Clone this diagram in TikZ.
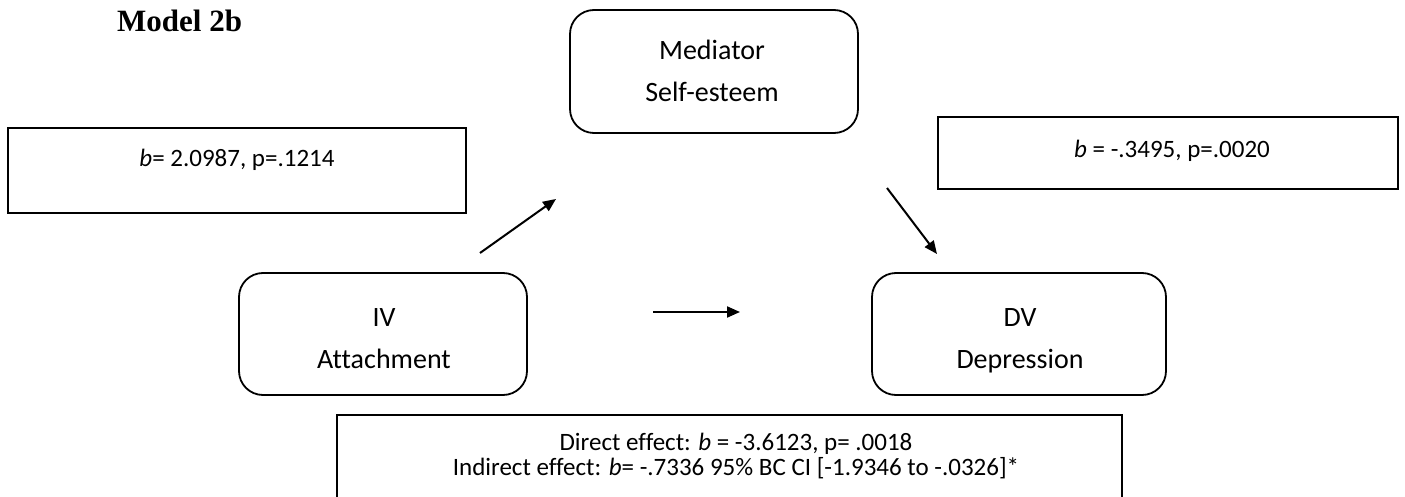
\documentclass[tikz,border=0pt]{standalone}
\usepackage{fontspec}
\setmainfont{Carlito}[Ligatures={TeX,NoCommon}]
\newfontfamily\titlefont{Liberation Serif}
\usetikzlibrary{arrows.meta}
\begin{document}
\begin{tikzpicture}[x=1pt,y=-1pt,
  rbox/.style={draw, line width=1.8pt, rounded corners=24pt, inner sep=0pt},
  pbox/.style={draw, line width=1.8pt, inner sep=0pt},
  txt/.style={inner sep=0pt, align=center, font=\fontsize{28}{42}\selectfont},
  stxt/.style={inner sep=0pt, align=center, font=\fontsize{25}{25}\selectfont},
  arr/.style={line width=2pt, -{Triangle[length=13pt,width=11pt]}}]
\useasboundingbox (0,0) rectangle (1405,497);
\node[inner sep=0pt, anchor=base west, font=\titlefont\bfseries\fontsize{31}{36}\selectfont] (title) at (117,32) {Model 2b};
\node[rbox, minimum width=288pt, minimum height=123pt] (med) at (714,71.5) {};
\node[txt, anchor=base] (medt) at (712,102) {Mediator\\Self-esteem};
\node[pbox, minimum width=458pt, minimum height=85pt] (boxa) at (237,170.5) {};
\node[stxt, anchor=base] (boxat) at (237,167) {\textit{b}= 2.0987, p=.1214};
\node[pbox, minimum width=460pt, minimum height=72pt] (boxb) at (1168,153) {};
\node[stxt, anchor=base] (boxbt) at (1172,158) {\textit{b} = -.3495, p=.0020};
\node[rbox, minimum width=288pt, minimum height=122pt] (iv) at (383,334) {};
\node[txt, anchor=base] (ivt) at (384,368) {IV\\Attachment};
\node[rbox, minimum width=294pt, minimum height=122pt] (dv) at (1019,334) {};
\node[txt, anchor=base] (dvt) at (1020,368) {DV\\Depression};
\coordinate (bl) at (337,500);
\coordinate (tl) at (337,415);
\coordinate (tr) at (1122,415);
\coordinate (br) at (1122,500);
\draw[line width=1.8pt] (bl) -- (tl) -- (tr) -- (br);
\node[stxt, anchor=base] (eff) at (736,475) {Direct effect: \textit{b} = -3.6123, p= .0018\\Indirect effect: \textit{b}= -.7336 95\% BC CI [-1.9346 to -.0326]*};
\coordinate (a1s) at (480,253);
\coordinate (a1e) at (556,199);
\coordinate (a2s) at (887,188);
\coordinate (a2e) at (937,254);
\coordinate (a3s) at (653,312);
\coordinate (a3e) at (740,312);
\draw[arr] (a1s) -- (a1e);
\draw[arr] (a2s) -- (a2e);
\draw[arr] (a3s) -- (a3e);
\end{tikzpicture}
\end{document}
